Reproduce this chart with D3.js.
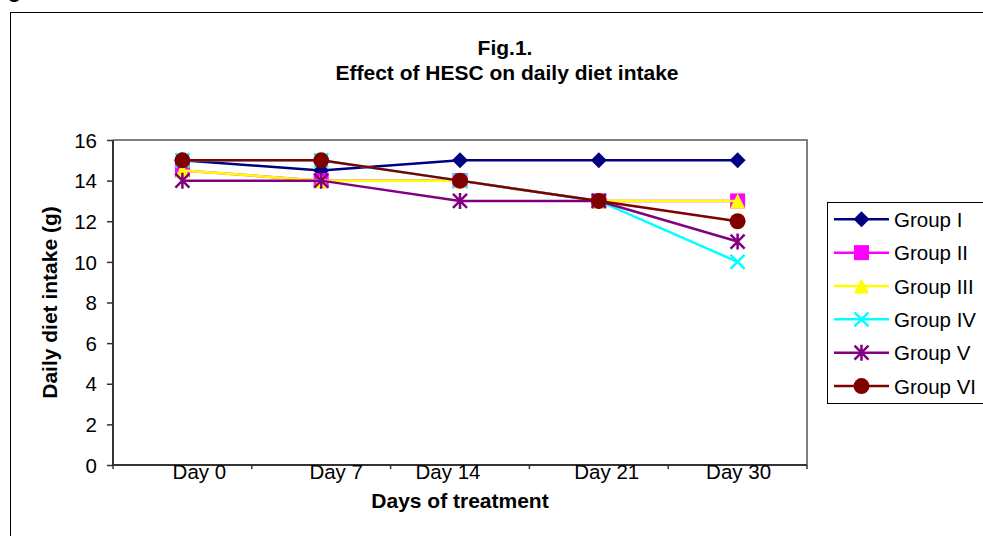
<!DOCTYPE html>
<html>
<head>
<meta charset="utf-8">
<script src="https://cdn.jsdelivr.net/npm/d3@7"></script>
<style>
  body { margin: 0; background: #fff; }
  text { font-family: "Liberation Sans", Arial, sans-serif; fill: #000; }
</style>
</head>
<body>
<div id="chart"></div>
<script>
// data
var days = ["Day 0", "Day 7", "Day 14", "Day 21", "Day 30"];
var groups = ["Group I", "Group II", "Group III", "Group IV", "Group V", "Group VI"];
var groupI   = [15, 14.5, 15, 15, 15];
var groupII  = [14.5, 14, 14, 13, 13];
var groupIII = [14.5, 14, 14, 13, 13];
var groupIV  = [15, 15, 14, 13, 10];
var groupV   = [14, 14, 13, 13, 11];
var groupVI  = [15, 15, 14, 13, 12];
var yTicks = [0, 2, 4, 6, 8, 10, 12, 14, 16];

var seriesValues = [groupI, groupII, groupIII, groupIV, groupV, groupVI];
var colors = ["#000080", "#FF00FF", "#FFFF00", "#00FFFF", "#800080", "#800000"];
var shapes = ["diamond", "square", "triangle", "x", "star", "circle"];
// the original's category labels sit a little off their tick centres
var labelNudge = [17, 15, -12, 8, 1];

var W = 983, H = 536;
var margin = {top: 140, right: 176, bottom: 71, left: 113},
    width = W - margin.left - margin.right,
    height = H - margin.top - margin.bottom;

var svg = d3.select("#chart").append("svg")
    .attr("width", W)
    .attr("height", H);

// outer frame (runs off the page on the right / bottom)
svg.append("rect")
    .attr("x", 10.5).attr("y", 12.5)
    .attr("width", 1000).attr("height", 600)
    .attr("fill", "none").attr("stroke", "#000").attr("stroke-width", 1);

// clipped text above frame
svg.append("text").attr("x", 8).attr("y", -2)
    .style("font-size", "21px").style("font-weight", "bold").text("g");

// titles
svg.append("text")
    .attr("x", 505).attr("y", 55)
    .attr("text-anchor", "middle")
    .style("font-size", "21px").style("font-weight", "bold")
    .text("Fig.1.");
svg.append("text")
    .attr("x", 507).attr("y", 80)
    .attr("text-anchor", "middle")
    .style("font-size", "21px").style("font-weight", "bold")
    .text("Effect of HESC on daily diet intake");

var g = svg.append("g")
    .attr("transform", "translate(" + margin.left + "," + margin.top + ")");

var x = d3.scaleBand().domain(days).range([0, width]).padding(0);
var y = d3.scaleLinear().domain([0, 16]).range([height, 0]);

// plot area border (top / right)
g.append("path")
    .attr("d", "M0,0H" + width + "V" + height)
    .attr("fill", "none").attr("stroke", "#808080").attr("stroke-width", 2);

// y axis
var yAxis = g.append("g")
    .call(d3.axisLeft(y).tickValues(yTicks).tickSize(6).tickPadding(10));
yAxis.select(".domain").attr("stroke", "#333").attr("stroke-width", 2).attr("d", "M0," + height + "V0");
yAxis.selectAll(".tick line").attr("stroke", "#333").attr("stroke-width", 1.5);
yAxis.selectAll(".tick text")
    .style("font-size", "20.5px").style("font-family", "Liberation Sans, Arial, sans-serif")
    .attr("fill", "#000").attr("dy", "0.35em");

// x axis: labels at band centres, ticks at band edges
var xAxis = g.append("g")
    .attr("transform", "translate(0," + height + ")")
    .call(d3.axisBottom(x).tickSize(0).tickPadding(0));
xAxis.select(".domain").attr("stroke", "#333").attr("stroke-width", 2).attr("d", "M0,0H" + width);
xAxis.selectAll(".tick text")
    .style("font-size", "20.5px").style("font-family", "Liberation Sans, Arial, sans-serif")
    .attr("fill", "#000").attr("y", 14).attr("dy", 0)
    .attr("dx", function(d, i) { return labelNudge[i]; });
var edges = days.map(function(d) { return x(d); }).concat([x.range()[1]]);
xAxis.selectAll(".edge").data(edges).enter().append("line")
    .attr("class", "edge")
    .attr("x1", function(d) { return d; }).attr("x2", function(d) { return d; })
    .attr("y1", 0).attr("y2", 4)
    .attr("stroke", "#333").attr("stroke-width", 1.5);

// axis titles
svg.append("text")
    .attr("transform", "translate(57," + (margin.top + height / 2) + ") rotate(-90)")
    .attr("text-anchor", "middle")
    .style("font-size", "21px").style("font-weight", "bold")
    .text("Daily diet intake (g)");
svg.append("text")
    .attr("x", 460).attr("y", 508)
    .attr("text-anchor", "middle")
    .style("font-size", "21px").style("font-weight", "bold")
    .text("Days of treatment");

// marker drawing
function drawMarker(sel, shape, color) {
  var s = 8;
  if (shape === "diamond") {
    sel.append("path").attr("d", "M0," + -s + "L" + s + ",0L0," + s + "L" + -s + ",0Z").attr("fill", color);
  } else if (shape === "square") {
    sel.append("rect").attr("x", -7.5).attr("y", -7.5).attr("width", 15).attr("height", 15).attr("fill", color);
  } else if (shape === "triangle") {
    sel.append("path").attr("d", "M0,-7.5L7.5,7.5L-7.5,7.5Z").attr("fill", color);
  } else if (shape === "x") {
    sel.append("path").attr("d", "M-7,-7L7,7M7,-7L-7,7")
      .attr("stroke", color).attr("stroke-width", 2.5).attr("fill", "none");
  } else if (shape === "star") {
    sel.append("path").attr("d", "M-7,-7L7,7M7,-7L-7,7M0,-8V8")
      .attr("stroke", color).attr("stroke-width", 2.5).attr("fill", "none");
  } else if (shape === "circle") {
    sel.append("circle").attr("r", 8).attr("fill", color);
  }
}

var line = d3.line()
    .x(function(d, i) { return x(days[i]) + x.bandwidth() / 2; })
    .y(function(d) { return y(d); });

seriesValues.forEach(function(vals, k) {
  var sg = g.append("g").attr("class", "series");
  sg.append("path")
      .datum(vals)
      .attr("d", line)
      .attr("fill", "none")
      .attr("stroke", colors[k])
      .attr("stroke-width", 2.5);
  sg.selectAll(".pt").data(vals).enter().append("g")
      .attr("class", "pt")
      .attr("transform", function(d, i) {
        return "translate(" + (x(days[i]) + x.bandwidth() / 2) + "," + y(d) + ")";
      })
      .each(function() { drawMarker(d3.select(this), shapes[k], colors[k]); });
});

// legend
var legend = svg.append("g").attr("transform", "translate(827,202)");
legend.append("rect")
    .attr("x", 0.5).attr("y", 0.5).attr("width", 160).attr("height", 201)
    .attr("fill", "#fff").attr("stroke", "#000").attr("stroke-width", 1);
var items = legend.selectAll(".item").data(groups).enter().append("g")
    .attr("class", "item")
    .attr("transform", function(d, i) { return "translate(0," + (17.3 + i * 33.35) + ")"; });
items.append("line")
    .attr("x1", 7).attr("x2", 62).attr("y1", 0).attr("y2", 0)
    .attr("stroke", function(d, i) { return colors[i]; })
    .attr("stroke-width", 2.5);
items.each(function(d, i) {
  var m = d3.select(this).append("g").attr("transform", "translate(34.5,0)");
  drawMarker(m, shapes[i], colors[i]);
});
items.append("text")
    .attr("x", 67).attr("y", 7.5)
    .style("font-size", "20.5px")
    .text(function(d) { return d; });
</script>
</body>
</html>
